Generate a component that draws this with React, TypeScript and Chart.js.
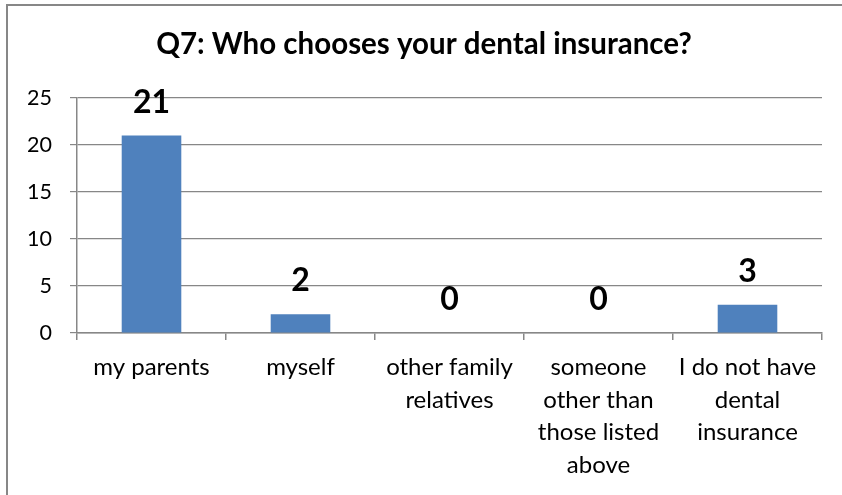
import React, { useEffect, useRef } from "react";
import { Chart, registerables } from "chart.js";

Chart.register(...registerables);

const chartTitle = "Q7: Who chooses your dental insurance?";
const categories: string[][] = [
  ["my parents"],
  ["myself"],
  ["other family", "relatives"],
  ["someone", "other than", "those listed", "above"],
  ["I do not have", "dental", "insurance"],
];
const values: number[] = [21, 2, 0, 0, 3];
const yMin = 0;
const yMax = 25;
const yStep = 5;

const FONT = "Lato, 'Open Sans', sans-serif";
const GRAY = "#878787";

const barLabels = {
  id: "barLabels",
  afterDatasetsDraw(chart: any) {
    const { ctx } = chart;
    const meta = chart.getDatasetMeta(0);
    ctx.save();
    ctx.font = `bold 32px ${FONT}`;
    ctx.fillStyle = "#000";
    ctx.textAlign = "center";
    ctx.textBaseline = "alphabetic";
    meta.data.forEach((bar: any, i: number) => {
      ctx.fillText(String(values[i]), bar.x, bar.y - 23);
    });
    ctx.restore();
  },
};

export default function App() {
  const ref = useRef<HTMLCanvasElement | null>(null);

  useEffect(() => {
    if (!ref.current) return;
    const chart = new Chart(ref.current, {
      type: "bar",
      data: {
        labels: categories,
        datasets: [
          {
            data: values,
            backgroundColor: "#4F81BD",
            borderWidth: 0,
            barPercentage: 0.4,
            categoryPercentage: 1,
          },
        ],
      },
      options: {
        animation: false,
        responsive: false,
        devicePixelRatio: 1,
        layout: { padding: { left: 26, right: 20, top: 0, bottom: 0 } },
        plugins: {
          legend: { display: false },
          tooltip: { enabled: false },
          title: {
            display: true,
            text: chartTitle,
            color: "#000",
            font: { family: FONT, size: 29.5, weight: "bold", lineHeight: 1.2 },
            padding: { top: 27, bottom: 35.6 },
          },
        },
        scales: {
          x: {
            grid: {
              drawOnChartArea: false,
              drawTicks: true,
              tickLength: 7,
              color: GRAY,
              lineWidth: 1.5,
            },
            border: { display: true, color: GRAY, width: 1.5 },
            ticks: {
              color: "#000",
              font: { family: FONT, size: 24, lineHeight: 1.36 },
              padding: 11,
              maxRotation: 0,
              autoSkip: false,
            },
            afterFit: (scale: any) => {
              scale.height = 162;
            },
          },
          y: {
            min: yMin,
            max: yMax,
            ticks: {
              stepSize: yStep,
              color: "#000",
              font: { family: FONT, size: 21.5 },
              padding: 18,
            },
            grid: {
              color: GRAY,
              lineWidth: 1.2,
              tickLength: 7,
              drawTicks: true,
            },
            border: { display: true, color: GRAY, width: 1.5 },
            afterFit: (scale: any) => {
              scale.width = 51;
            },
          },
        },
      },
      plugins: [barLabels],
    });
    return () => chart.destroy();
  }, []);

  return (
    <div
      style={{
        position: "fixed",
        left: 0,
        top: 0,
        width: 842,
        height: 495,
        overflow: "hidden",
        background: "#fff",
      }}
    >
      <canvas
        ref={ref}
        width={842}
        height={495}
        style={{ position: "absolute", left: 0, top: 0, width: 842, height: 495 }}
      />
      <div
        style={{
          position: "absolute",
          left: 6,
          top: 4,
          width: 1200,
          height: 800,
          borderLeft: `2px solid ${GRAY}`,
          borderTop: `2px solid ${GRAY}`,
          pointerEvents: "none",
        }}
      />
    </div>
  );
}
